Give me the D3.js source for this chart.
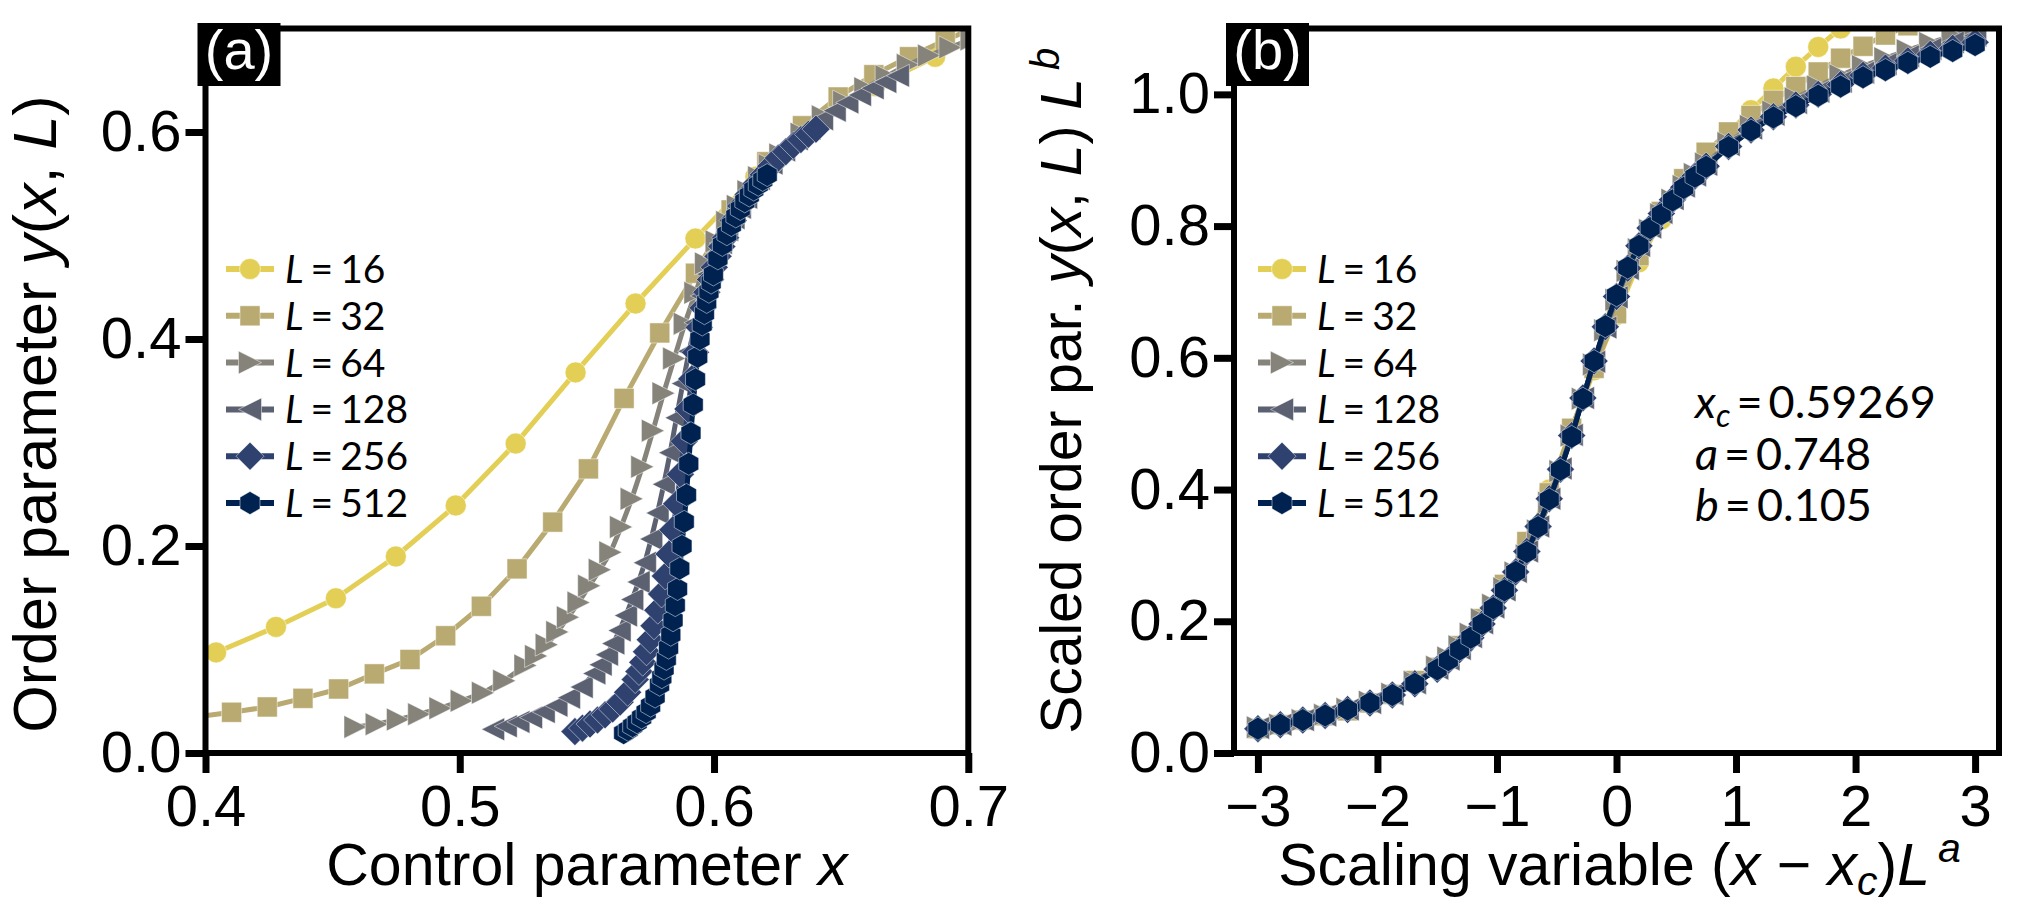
<!DOCTYPE html>
<html>
<head>
<meta charset="utf-8">
<script src="https://cdn.jsdelivr.net/npm/d3@7"></script>
<style>
  html, body { margin: 0; padding: 0; background: #fff; }
  svg { display: block; }
</style>
</head>
<body>
<svg id="chart" width="2040" height="918"></svg>
<script>
// ---------------- data ----------------
const sizes = [16, 32, 64, 128, 256, 512];
const seriesLabels = ["16", "32", "64", "128", "256", "512"];
const seriesColors = ["#e4cf56", "#b9aa72", "#86847a", "#5c6172", "#2f426f", "#002251"];
const seriesMarkers = ["circle", "square", "triRight", "triLeft", "diamond", "hexagon"];

// fit parameters shown in panel (b)
const xcValue = 0.59269;
const expA = 0.748;
const expB = 0.105;

// scaling variable (x - xc) L^a of the sampled points
// coarse sampling (L = 16, 32)
const scaledXCoarse = [-3, -2.8125, -2.625, -2.4375, -2.25, -2.0625, -1.875, -1.6875, -1.5, -1.3125,
  -1.125, -0.9375, -0.75, -0.5625, -0.375, -0.1875, 0, 0.1875, 0.375, 0.5625, 0.75, 0.9375,
  1.125, 1.3125, 1.5, 1.6875, 1.875, 2.0625, 2.25, 2.4375, 2.625, 2.8125, 3];
// finer sampling around the transition (L = 64 ... 512)
const scaledXFine = [-3, -2.8125, -2.625, -2.4375, -2.25, -2.0625, -1.875, -1.6875, -1.5,
  -1.40625, -1.3125, -1.21875, -1.125, -1.03125, -0.9375, -0.84375, -0.75, -0.65625, -0.5625,
  -0.46875, -0.375, -0.28125, -0.1875, -0.09375, 0, 0.09375, 0.1875, 0.28125, 0.375, 0.46875,
  0.5625, 0.65625, 0.75, 0.9375, 1.125, 1.3125, 1.5, 1.6875, 1.875, 2.0625, 2.25, 2.4375,
  2.625, 2.8125, 3];

// scaled order parameter y(x,L) L^b for each L
const scaledY16 = [0.036, 0.042, 0.049, 0.056, 0.065, 0.076, 0.089, 0.107, 0.130, 0.163, 0.200,
  0.254, 0.320, 0.400, 0.492, 0.581, 0.665, 0.745, 0.810, 0.862, 0.900, 0.941, 0.976, 1.009,
  1.042, 1.072, 1.100, 1.128, 1.155, 1.180, 1.205, 1.230, 1.255];
const scaledY32 = [0.037, 0.043, 0.050, 0.0566, 0.064, 0.076, 0.089, 0.110, 0.130, 0.163, 0.204,
  0.256, 0.321, 0.395, 0.493, 0.584, 0.667, 0.755, 0.822, 0.872, 0.912, 0.943, 0.968, 0.991,
  1.012, 1.034, 1.055, 1.073, 1.090, 1.104, 1.118, 1.132, 1.146];
const scaledY64 = [0.039, 0.043, 0.050, 0.058, 0.067, 0.078, 0.090, 0.108, 0.131,
  0.145, 0.162, 0.181, 0.203, 0.225, 0.250, 0.274, 0.300, 0.338, 0.380, 0.428, 0.482, 0.538,
  0.590, 0.642, 0.688, 0.732, 0.765, 0.794, 0.818, 0.840, 0.861, 0.879,
  0.895, 0.926, 0.952, 0.974, 0.994, 1.012, 1.029, 1.043, 1.055, 1.067, 1.078, 1.089, 1.100];
const scaledY128 = [0.038, 0.043, 0.050, 0.057, 0.066, 0.076, 0.089, 0.106, 0.128,
  0.142, 0.158, 0.176, 0.197, 0.221, 0.247, 0.275, 0.306, 0.344, 0.386, 0.432, 0.483, 0.539,
  0.594, 0.646, 0.692, 0.735, 0.770, 0.798, 0.820, 0.841, 0.860, 0.877,
  0.893, 0.923, 0.948, 0.969, 0.987, 1.004, 1.019, 1.033, 1.046, 1.058, 1.069, 1.079, 1.089];
const scaledY256 = [0.037, 0.043, 0.050, 0.057, 0.066, 0.076, 0.088, 0.105, 0.127,
  0.141, 0.157, 0.175, 0.196, 0.220, 0.247, 0.275, 0.306, 0.344, 0.386, 0.431, 0.482, 0.539,
  0.595, 0.647, 0.693, 0.736, 0.770, 0.797, 0.819, 0.840, 0.859, 0.876,
  0.891, 0.921, 0.946, 0.966, 0.984, 1.000, 1.015, 1.029, 1.040, 1.051, 1.061, 1.070, 1.079];
const scaledY512 = [0.037, 0.043, 0.050, 0.057, 0.066, 0.076, 0.088, 0.105, 0.127,
  0.141, 0.157, 0.175, 0.196, 0.220, 0.247, 0.275, 0.305, 0.343, 0.385, 0.430, 0.480, 0.538,
  0.595, 0.648, 0.695, 0.737, 0.770, 0.797, 0.818, 0.839, 0.858, 0.875,
  0.890, 0.920, 0.945, 0.965, 0.982, 0.998, 1.012, 1.026, 1.037, 1.048, 1.057, 1.066, 1.075];
const scaledXs = [scaledXCoarse, scaledXCoarse, scaledXFine, scaledXFine, scaledXFine, scaledXFine];
const scaledYs = [scaledY16, scaledY32, scaledY64, scaledY128, scaledY256, scaledY512];

// tick labels
const ticksAx = [0.4, 0.5, 0.6, 0.7];
const ticksAy = [0.0, 0.2, 0.4, 0.6];
const ticksBx = [-3, -2, -1, 0, 1, 2, 3];
const ticksBy = [0.0, 0.2, 0.4, 0.6, 0.8, 1.0];

// ---------------- layout ----------------
const svg = d3.select("#chart");
const FONT = "'Liberation Sans', Arial, Helvetica, sans-serif";
const FONT2 = "Lato, 'Open Sans', sans-serif";

const A = { left: 205.5, right: 968.3, top: 28.5, bottom: 753 };
const B = { left: 1234, right: 1999, top: 28.5, bottom: 753 };

const xA = d3.scaleLinear().domain([0.4, 0.7]).range([A.left, A.right]);
const yA = d3.scaleLinear().domain([0, 0.7]).range([A.bottom, A.top]);
const xB = d3.scaleLinear().domain([-3.2, 3.2]).range([B.left, B.right]);
const yB = d3.scaleLinear().domain([0, 1.1]).range([B.bottom, B.top]);

// each series in both coordinate systems: panel (a) uses the inverse of the scaling shown in (b)
const series = sizes.map((L, i) => {
  const La = Math.pow(L, expA), Lb = Math.pow(L, expB);
  const pts = scaledXs[i].map((s, k) => ({
    sx: s, sy: scaledYs[i][k],
    x: xcValue + s / La, y: scaledYs[i][k] / Lb
  }));
  return { L, label: seriesLabels[i], color: seriesColors[i], marker: seriesMarkers[i], pts };
});

function markerPath(type, cx, cy) {
  switch (type) {
    case "circle": { const r = 10.5;
      return `M${cx - r},${cy}a${r},${r} 0 1,0 ${2 * r},0a${r},${r} 0 1,0 ${-2 * r},0Z`; }
    case "square": { const s = 10;
      return `M${cx - s},${cy - s}H${cx + s}V${cy + s}H${cx - s}Z`; }
    case "triRight": { const s = 11.5;
      return `M${cx + s},${cy}L${cx - s},${cy - s}L${cx - s},${cy + s}Z`; }
    case "triLeft": { const s = 11.5;
      return `M${cx - s},${cy}L${cx + s},${cy - s}L${cx + s},${cy + s}Z`; }
    case "diamond": { const s = 14;
      return `M${cx},${cy - s}L${cx + s},${cy}L${cx},${cy + s}L${cx - s},${cy}Z`; }
    case "hexagon": { const R = 11.5; let d = "";
      for (let k = 0; k < 6; k++) {
        const a = Math.PI / 2 + k * Math.PI / 3;
        d += (k ? "L" : "M") + (cx + R * Math.cos(a)) + "," + (cy - R * Math.sin(a));
      }
      return d + "Z"; }
  }
}

const defs = svg.append("defs");
function clip(id, P) {
  defs.append("clipPath").attr("id", id).append("rect")
    .attr("x", P.left).attr("y", P.top)
    .attr("width", P.right - P.left).attr("height", P.bottom - P.top);
}
clip("clipA", A); clip("clipB", B);

function drawData(P, clipId, xs, ys, xKey, yKey) {
  const g = svg.append("g").attr("clip-path", `url(#${clipId})`);
  const line = d3.line().x(d => xs(d[xKey])).y(d => ys(d[yKey]));
  series.forEach(s => {
    const sg = g.append("g");
    sg.append("path").attr("d", line(s.pts)).attr("fill", "none")
      .attr("stroke", s.color).attr("stroke-width", 5).attr("stroke-linejoin", "round");
    sg.selectAll("path.m").data(s.pts).enter().append("path").attr("class", "m")
      .attr("d", d => markerPath(s.marker, xs(d[xKey]), ys(d[yKey])))
      .attr("fill", s.color).attr("stroke", "#ffffff").attr("stroke-opacity", 0.6)
      .attr("stroke-width", 0.8);
  });
}

function drawAxes(P, xs, ys, xt, yt, xfmt, yfmt) {
  const gx = svg.append("g").attr("transform", `translate(0,${P.bottom})`)
    .call(d3.axisBottom(xs).tickValues(xt).tickSize(20).tickPadding(12).tickFormat(xfmt));
  const gy = svg.append("g").attr("transform", `translate(${P.left},0)`)
    .call(d3.axisLeft(ys).tickValues(yt).tickSize(20).tickPadding(4).tickFormat(yfmt));
  [gx, gy].forEach(g => {
    g.select(".domain").remove();
    g.selectAll(".tick line").attr("stroke", "#000").attr("stroke-width", 7);
    g.selectAll(".tick text").attr("fill", "#000").style("font-family", FONT)
      .style("font-size", "58px");
  });
  svg.append("rect").attr("x", P.left).attr("y", P.top)
    .attr("width", P.right - P.left).attr("height", P.bottom - P.top)
    .attr("fill", "none").attr("stroke", "#000").attr("stroke-width", 6);
}

function drawLegend(x0, y0) {
  const g = svg.append("g");
  series.forEach((s, i) => {
    const y = y0 + i * 46.8;
    g.append("line").attr("x1", x0).attr("x2", x0 + 48).attr("y1", y).attr("y2", y)
      .attr("stroke", s.color).attr("stroke-width", 6);
    g.append("path").attr("d", markerPath(s.marker, x0 + 24, y)).attr("fill", s.color)
      .attr("stroke", "#fff").attr("stroke-opacity", 0.6).attr("stroke-width", 0.8);
    const t = g.append("text").attr("x", x0 + 59).attr("y", y + 14)
      .style("font-family", FONT2).style("font-size", "39px").attr("fill", "#000");
    t.append("tspan").style("font-style", "italic").text("L");
    t.append("tspan").attr("dx", 7).text("=");
    t.append("tspan").attr("dx", 7).text(s.label);
  });
}

function panelTag(P, txt) {
  svg.append("rect").attr("x", P.left - 8).attr("y", 23).attr("width", 83).attr("height", 63)
    .attr("fill", "#000");
  svg.append("text").attr("x", P.left - 8 + 41.5).attr("y", 69).attr("text-anchor", "middle")
    .style("font-family", FONT).style("font-size", "56px").attr("fill", "#fff").text(txt);
}

// panel (a)
drawData(A, "clipA", xA, yA, "x", "y");
drawAxes(A, xA, yA, ticksAx, ticksAy, d3.format(".1f"), d3.format(".1f"));
drawLegend(226, 269);
panelTag(A, "(a)");

// panel (b)
drawData(B, "clipB", xB, yB, "sx", "sy");
drawAxes(B, xB, yB, ticksBx, ticksBy, d3.format("d"), d3.format(".1f"));
drawLegend(1258, 269);
panelTag(B, "(b)");

// axis titles
function title(x, y, rot, size, parts) {
  const t = svg.append("text").attr("text-anchor", "middle")
    .attr("transform", `translate(${x},${y})` + (rot ? " rotate(-90)" : ""))
    .style("font-family", FONT).style("font-size", size + "px").attr("fill", "#000");
  parts.forEach(p => {
    const ts = t.append("tspan").text(p.t);
    if (p.i) ts.style("font-style", "italic");
    if (p.s) ts.style("font-size", p.s + "px");
    if (p.dy) ts.attr("dy", p.dy);
    if (p.dx) ts.attr("dx", p.dx);
  });
}
title((A.left + A.right) / 2, 885, false, 59,
  [{ t: "Control parameter " }, { t: "x", i: 1 }]);
title(56, 414, true, 61,
  [{ t: "Order parameter " }, { t: "y", i: 1 }, { t: "(" }, { t: "x", i: 1 }, { t: ", " },
   { t: "L", i: 1 }, { t: ")" }]);
title((B.left + B.right) / 2 + 3, 885, false, 59,
  [{ t: "Scaling variable (" }, { t: "x", i: 1 }, { t: " \u2212 " }, { t: "x", i: 1 },
   { t: "c", i: 1, s: 41, dy: 10 }, { t: ")", dy: -10 }, { t: "L", i: 1 },
   { t: "a", i: 1, s: 41, dy: -23, dx: 8 }]);
title(1081, (B.top + B.bottom) / 2, true, 57,
  [{ t: "Scaled order par. " }, { t: "y", i: 1 }, { t: "(" }, { t: "x", i: 1 }, { t: ", " },
   { t: "L", i: 1 }, { t: ")" }, { t: " L", i: 1 }, { t: "b", i: 1, s: 40, dy: -22, dx: 8 }]);

// fit annotation
const ann = [
  [{ t: "x", i: 1 }, { t: "c", i: 1, s: 32, dy: 9 }, { t: "=", dy: -9, dx: 6 }, { t: "0.59269", dx: 6 }],
  [{ t: "a", i: 1 }, { t: "=", dx: 6 }, { t: "0.748", dx: 6 }],
  [{ t: "b", i: 1 }, { t: "=", dx: 6 }, { t: "0.105", dx: 6 }]
];
const annY = [418, 470, 521];
ann.forEach((parts, j) => {
  const t = svg.append("text").attr("x", 1695).attr("y", annY[j])
    .style("font-family", FONT2).style("font-size", "45px").attr("fill", "#000");
  parts.forEach(p => {
    const ts = t.append("tspan").text(p.t);
    if (p.i) ts.style("font-style", "italic");
    if (p.s) ts.style("font-size", p.s + "px");
    if (p.dy) ts.attr("dy", p.dy);
    if (p.dx) ts.attr("dx", p.dx);
  });
});
</script>
</body>
</html>
